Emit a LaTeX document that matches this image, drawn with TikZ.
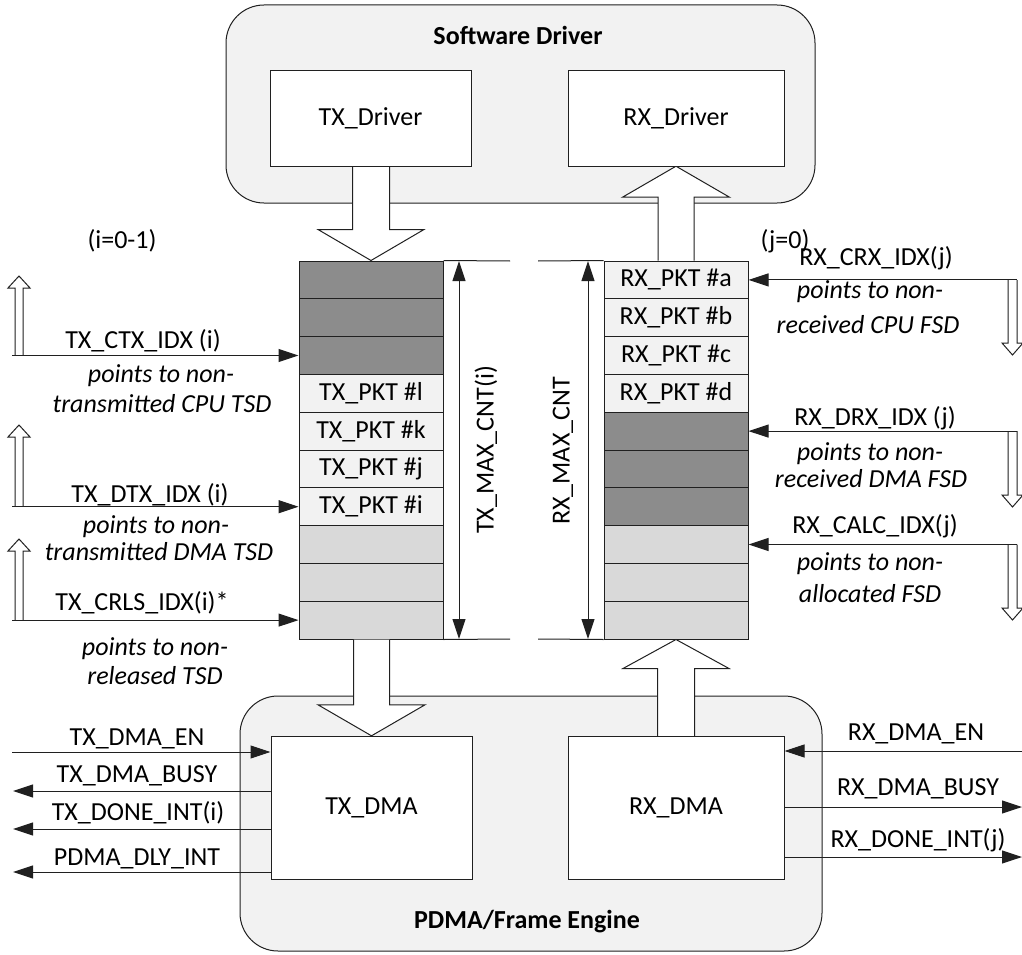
\documentclass[tikz,border=0pt]{standalone}
\usepackage{fontspec}
\setmainfont{Carlito}
\usetikzlibrary{arrows.meta,calc}
\definecolor{bgc}{HTML}{F2F2F2}
\definecolor{dkc}{HTML}{8C8C8C}
\definecolor{mdc}{HTML}{D9D9D9}
\definecolor{ltc}{HTML}{F2F2F2}
\definecolor{lnc}{HTML}{202020}
\newcommand\hollowdown[5]{%
  \path[hollow] let \p1=(#1), \p2=(#2) in
   ({\x2-#3},\y1) -- ({\x2-#3},{\y2+#5}) -- ({\x2-#4},{\y2+#5}) -- (\p2) --
   ({\x2+#4},{\y2+#5}) -- ({\x2+#3},{\y2+#5}) -- ({\x2+#3},\y1);}
\newcommand\hollowup[5]{%
  \path[hollow] let \p1=(#1), \p2=(#2) in
   ({\x2-#3},\y1) -- ({\x2-#3},{\y2-#5}) -- ({\x2-#4},{\y2-#5}) -- (\p2) --
   ({\x2+#4},{\y2-#5}) -- ({\x2+#3},{\y2-#5}) -- ({\x2+#3},\y1);}
\newcommand\smallup[3]{%
  \path[hollow] ({#1-4},#2) -- ({#1-4},{#3+12}) -- ({#1-11},{#3+12}) -- (#1,#3) --
   ({#1+11},{#3+12}) -- ({#1+4},{#3+12}) -- ({#1+4},#2);}
\newcommand\smalldown[3]{%
  \path[hollow] ({#1-4.5},#2) -- ({#1-4.5},{#3-12}) -- ({#1-10.5},{#3-12}) -- (#1,#3) --
   ({#1+10.5},{#3-12}) -- ({#1+4.5},{#3-12}) -- ({#1+4.5},#2);}
\begin{document}
\begin{tikzpicture}[x=1pt,y=-1pt,
  font=\fontsize{26}{31}\selectfont,
  every node/.style={inner sep=0pt},
  group/.style={draw=lnc, fill=bgc, rounded corners=38pt, line width=1pt},
  blk/.style={draw=lnc, fill=white, line width=1pt},
  cell/.style={draw=lnc, line width=1pt, minimum width=144pt, minimum height=37.8pt},
  ptr/.style={draw=lnc, line width=1pt, -{Triangle[length=20pt,width=13pt]}},
  dimarr/.style={draw=lnc, line width=1pt, {Triangle[length=20pt,width=13pt]}-{Triangle[length=20pt,width=13pt]}},
  ext/.style={draw=lnc, line width=1pt},
  hollow/.style={draw=lnc, fill=white, line width=1pt, line join=miter},
  lbl/.style={anchor=base},
  note/.style={anchor=base, font=\fontsize{26}{31}\selectfont\itshape},
  ttl/.style={anchor=base, font=\fontsize{26}{31}\selectfont\bfseries}
]
\useasboundingbox (0,0) rectangle (1022,955);

% groups
\node[group, minimum width=589pt, minimum height=198pt] (sw) at (520.5,104) {};
\node[group, minimum width=582pt, minimum height=255pt] (pdma) at (531,823.5) {};
\node[ttl] (swt) at (518,45) {Software Driver};
\node[ttl] (pdmat) at (527,928) {PDMA/Frame Engine};

% stacks
\foreach \i/\f/\t in {1/dkc/{},2/dkc/{},3/dkc/{},4/ltc/{TX\_PKT \#l},5/ltc/{TX\_PKT \#k},6/ltc/{TX\_PKT \#j},7/ltc/{TX\_PKT \#i},8/mdc/{},9/mdc/{},10/mdc/{}}
  \node[cell, fill=\f] (tx\i) at (371,{261+37.8*(\i-0.5)}) {\t};
\foreach \i/\f/\t in {1/ltc/{RX\_PKT \#a},2/ltc/{RX\_PKT \#b},3/ltc/{RX\_PKT \#c},4/ltc/{RX\_PKT \#d},5/dkc/{},6/dkc/{},7/dkc/{},8/mdc/{},9/mdc/{},10/mdc/{}}
  \node[cell, fill=\f] (rx\i) at (676,{261+37.8*(\i-0.5)}) {\t};

% blocks (positions)
\path (370.5,118.5) node[minimum width=201pt, minimum height=95pt] (txd) {}
      (676,118.5) node[minimum width=216pt, minimum height=95pt] (rxd) {}
      (371.5,807.5) node[minimum width=201pt, minimum height=143pt] (txdma) {}
      (676,807.5) node[minimum width=216pt, minimum height=143pt] (rxdma) {};

% big hollow arrows
\hollowdown{txd.south}{tx1.north}{18.5pt}{53pt}{31pt}
\hollowdown{tx10.south}{txdma.north}{18pt}{53.5pt}{31pt}
\hollowup{rx1.north}{rxd.south}{18pt}{53.5pt}{31pt}
\hollowup{rxdma.north}{rx10.south}{18.5pt}{53pt}{29pt}

% blocks drawn
\node[blk, minimum width=201pt, minimum height=95pt] (txdb) at (txd) {TX\_Driver};
\node[blk, minimum width=216pt, minimum height=95pt] (rxdb) at (rxd) {RX\_Driver};
\node[blk, minimum width=201pt, minimum height=143pt] (txdmab) at (txdma) {TX\_DMA};
\node[blk, minimum width=216pt, minimum height=143pt] (rxdmab) at (rxdma) {RX\_DMA};

% dimension lines
\coordinate (txT) at (510,261); \coordinate (txB) at (510,639);
\coordinate (tdT) at (459,261); \coordinate (tdB) at (459,639);
\draw[ext] (tx1.north east) -- (txT);
\draw[ext] (tx10.south east) -- (txB);
\draw[dimarr] (tdT) -- (tdB);
\node[rotate=90] (txmax) at (486,450) {TX\_MAX\_CNT(i)};
\coordinate (rxT) at (538,261); \coordinate (rxB) at (538,639);
\coordinate (rdT) at (588,261); \coordinate (rdB) at (588,639);
\draw[ext] (rxT) -- (rx1.north west);
\draw[ext] (rxB) -- (rx10.south west);
\draw[dimarr] (rdT) -- (rdB);
\node[rotate=90] (rxmax) at (563,451) {RX\_MAX\_CNT};

% left index pointers
\coordinate (pl) at (12,0);
\coordinate (pr) at (1017,0);
\node[lbl] (ieq) at (122,248) {(i=0-1)};
\node[lbl] (jeq) at (785,248) {(j=0)};

\smallup{19}{355.5}{276}
\smallup{19}{506.7}{425}
\smallup{19}{620}{539}
\draw[ptr] (pl |- tx3.west) -- (tx3.west);
\draw[ptr] (pl |- tx7.west) -- (tx7.west);
\draw[ptr] (pl |- tx10.west) -- (tx10.west);
\node[lbl] (l1) at (143,348) {TX\_CTX\_IDX (i)};
\node[note] (l1a) at (161,382) {points to non-};
\node[note] (l1b) at (162,412) {transmitted CPU TSD};
\node[lbl] (l2) at (150,502) {TX\_DTX\_IDX (i)};
\node[note] (l2a) at (156,533) {points to non-};
\node[note] (l2b) at (159,560) {transmitted DMA TSD};
\node[lbl] (l3) at (142,610) {TX\_CRLS\_IDX(i)*};
\node[note] (l3a) at (155,655) {points to non-};
\node[note] (l3b) at (155,684) {released TSD};

% right index pointers
\smalldown{1012.5}{280}{355}
\smalldown{1012.5}{431}{507}
\smalldown{1012.5}{544.5}{620}
\draw[ptr] (pr |- rx1.east) -- (rx1.east);
\draw[ptr] (pr |- rx5.east) -- (rx5.east);
\draw[ptr] (pr |- rx8.east) -- (rx8.east);
\node[lbl] (r1) at (876,265) {RX\_CRX\_IDX(j)};
\node[note] (r1a) at (870,298) {points to non-};
\node[note] (r1b) at (868,333) {received CPU FSD};
\node[lbl] (r2) at (875,425) {RX\_DRX\_IDX (j)};
\node[note] (r2a) at (870,460) {points to non-};
\node[note] (r2b) at (871,487) {received DMA FSD};
\node[lbl] (r3) at (875,533) {RX\_CALC\_IDX(j)};
\node[note] (r3a) at (870,570) {points to non-};
\node[note] (r3b) at (870,602) {allocated FSD};

% DMA signals
\coordinate (s1) at (12,752); \coordinate (s2) at (13,791);
\coordinate (s3) at (13,829); \coordinate (s4) at (13,872);
\draw[ptr] (s1) -- (txdmab.west |- s1);
\draw[ptr] (txdmab.west |- s2) -- (s2);
\draw[ptr] (txdmab.west |- s3) -- (s3);
\draw[ptr] (txdmab.west |- s4) -- (s4);
\node[lbl] (t1) at (137,745) {TX\_DMA\_EN};
\node[lbl] (t2) at (137,782) {TX\_DMA\_BUSY};
\node[lbl] (t3) at (138,820) {TX\_DONE\_INT(i)};
\node[lbl] (t4) at (137,865) {PDMA\_DLY\_INT};

\coordinate (q1) at (1022,751); \coordinate (q2) at (1022,807); \coordinate (q3) at (1022,857);
\draw[ptr] (q1) -- (rxdmab.east |- q1);
\draw[ptr] (rxdmab.east |- q2) -- (q2);
\draw[ptr] (rxdmab.east |- q3) -- (q3);
\node[lbl] (u1) at (916,740) {RX\_DMA\_EN};
\node[lbl] (u2) at (918,795) {RX\_DMA\_BUSY};
\node[lbl] (u3) at (918,847) {RX\_DONE\_INT(j)};
\end{tikzpicture}
\end{document}
